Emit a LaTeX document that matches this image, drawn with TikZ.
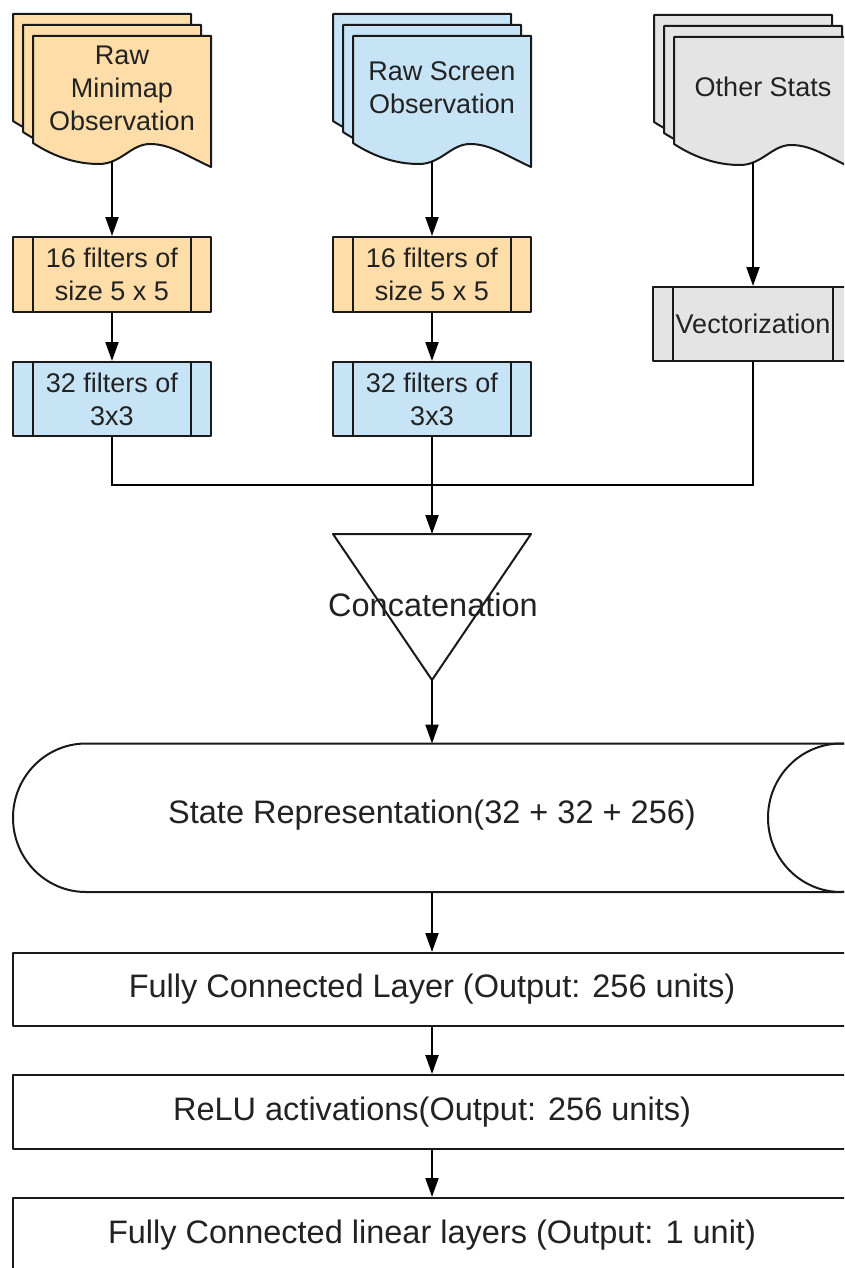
\documentclass[tikz,border=0pt]{standalone}
\usepackage{fontspec}
\setmainfont{Liberation Sans}
\usetikzlibrary{arrows.meta}

\definecolor{peach}{HTML}{FFDDA8}
\definecolor{skyfill}{HTML}{C7E4F6}
\definecolor{greyfill}{HTML}{E4E4E4}
\definecolor{ink}{HTML}{222222}

\tikzset{
  outline/.style={draw=black!90, line width=2pt, line join=round},
  conn/.style={draw=black, line width=2pt},
  arr/.style={conn, -{Triangle[length=19pt,width=13pt]}},
  smalltext/.style={font=\fontsize{27}{33}\selectfont, text=ink, align=center},
  bigtext/.style={font=\fontsize{32.5}{39}\selectfont, text=ink, align=center},
  procbox/.style={outline, rectangle, minimum width=198pt, minimum height=75pt,
    inner sep=0pt, smalltext,
    path picture={\draw[line width=2pt, draw=black!90]
      ([xshift=20pt]path picture bounding box.north west) --
      ([xshift=20pt]path picture bounding box.south west)
      ([xshift=-20pt]path picture bounding box.north east) --
      ([xshift=-20pt]path picture bounding box.south east);}},
  layerbox/.style={outline, rectangle, minimum width=838pt, minimum height=74pt,
    inner sep=0pt, bigtext},
}

% one sheet of a stacked document: flat top, wavy bottom
\newcommand{\docsheet}[3]{%
  \filldraw[outline, fill=#3, shift={(#1,#2)}]
    (0,0) -- (178,0) -- (178,131)
    .. controls (152,119) and (137,108) .. (117,108)
    .. controls (98,108) and (88,128) .. (66,128)
    .. controls (42,128) and (20,120) .. (0,107) -- cycle;}
% three sheets stacked towards the upper left
\newcommand{\docstack}[3]{%
  \docsheet{#1-20}{#2-22}{#3}%
  \docsheet{#1-10}{#2-11}{#3}%
  \docsheet{#1}{#2}{#3}}

\begin{document}
\begin{tikzpicture}[x=1pt, y=-1pt]
\useasboundingbox (0,0) rectangle (844,1268);
\clip (0,0) rectangle (844,1268);

% ---- inputs ----
\docstack{33}{36}{peach}
\node[smalltext] (minimap) at (122,88) {Raw\\Minimap\\Observation};
\coordinate (minimapout) at (112,161);

\docstack{353}{36}{skyfill}
\node[smalltext] (screen) at (442,88) {Raw Screen\\Observation};
\coordinate (screenout) at (432,161);

\docstack{674}{37}{greyfill}
\node[smalltext] (stats) at (763,87) {Other Stats};
\coordinate (statsout) at (753,162);

% ---- feature extraction ----
\node[procbox, fill=peach] (mmconv1) at (112,274.5) {16 filters of\\size 5 x 5};
\node[procbox, fill=skyfill, minimum height=74pt] (mmconv2) at (112,399) {32 filters of\\3x3};
\node[procbox, fill=peach] (scconv1) at (432,274.5) {16 filters of\\size 5 x 5};
\node[procbox, fill=skyfill, minimum height=74pt] (scconv2) at (432,399) {32 filters of\\3x3};
\node[procbox, fill=greyfill, minimum width=200pt, minimum height=74pt] (vector) at (753,324) {Vectorization};

\draw[arr] (minimapout) -- (mmconv1.north);
\draw[arr] (mmconv1.south) -- (mmconv2.north);
\draw[arr] (screenout) -- (scconv1.north);
\draw[arr] (scconv1.south) -- (scconv2.north);
\draw[arr] (statsout) -- (vector.north);

% ---- concatenation ----
\coordinate (merge) at (432,485);
\coordinate (cattop) at (432,534);
\coordinate (catapex) at (432,680);
\draw[conn] (mmconv2.south) |- (merge);
\draw[conn] (vector.south) |- (merge);
\draw[arr] (scconv2.south) -- (cattop);
\draw[outline] ([xshift=-99pt]cattop) -- ([xshift=99pt]cattop) -- (catapex) -- cycle;
\node[bigtext] (concat) at (433,605) {Concatenation};

% ---- state representation (horizontal cylinder) ----
\coordinate (statetop) at (432,743.5);
\coordinate (statebot) at (432,892);
\filldraw[outline, fill=white] (86,743.5) -- (841,743.5)
  arc[start angle=-90, end angle=90, x radius=73, y radius=74.25]
  -- (86,892)
  arc[start angle=90, end angle=270, x radius=73, y radius=74.25] -- cycle;
\draw[outline] (841,817.75) ellipse[x radius=73, y radius=74.25];
\node[bigtext] (state) at (432,815.5) {State Representation(32 + 32 + 256)};
\draw[arr] (catapex) -- (statetop);

% ---- dense head ----
\node[layerbox, minimum height=73pt] (fc) at (432,989.5) {Fully Connected Layer (Output: 256 units)};
\node[layerbox] (relu) at (432,1112) {ReLU activations(Output: 256 units)};
\node[layerbox] (linear) at (432,1235) {Fully Connected linear layers (Output: 1 unit)};

\draw[arr] (statebot) -- (fc.north);
\draw[arr] (fc.south) -- (relu.north);
\draw[arr] (relu.south) -- (linear.north);
\end{tikzpicture}
\end{document}
